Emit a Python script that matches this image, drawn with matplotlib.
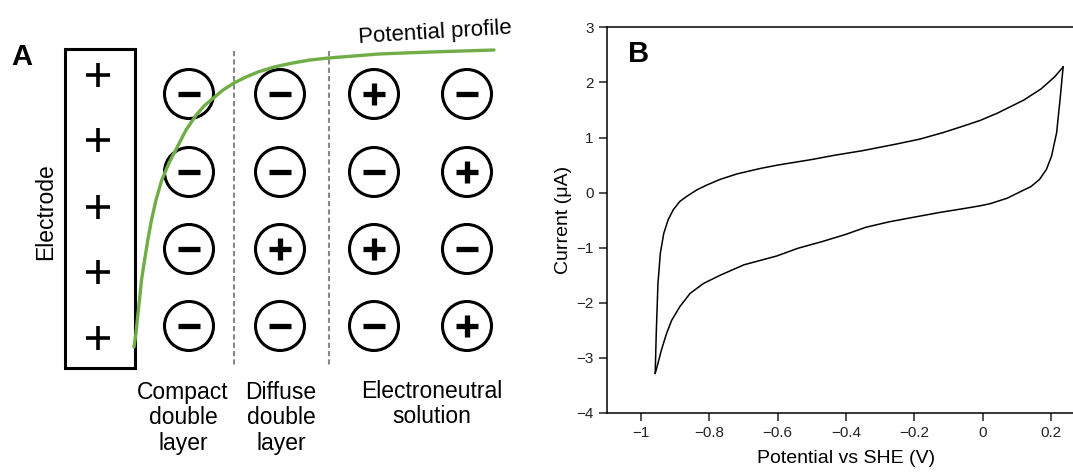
import numpy as np
import matplotlib
matplotlib.use("Agg")
import matplotlib.pyplot as plt
from matplotlib.patches import Circle, Rectangle

plt.rcParams['font.family'] = ['Liberation Sans', 'DejaVu Sans']

# ---- Panel A: double layer sketch ----
ion_signs = [['-', '-', '+', '-'],
             ['-', '-', '-', '+'],
             ['-', '+', '+', '-'],
             ['-', '-', '-', '+']]
col_x = [189, 280, 374, 467]
row_y = [94, 172, 249, 326]
electrode_plus_y = [75, 140, 207, 272, 338]
divider_x = [234, 329]

# potential profile (pixel coords of the sketch)
profile_x = [134, 136, 137.5, 139.5, 141.5, 144.6, 147.8, 151.5, 156, 161.8, 169, 177.3,
             186, 196.3, 204, 213.5, 223, 234, 246, 258, 274, 292.7, 310, 328.8,
             354, 378.8, 404, 430.4, 462, 494]
profile_y = [347, 333, 318, 300, 280, 260, 240, 220, 200, 180, 163, 147,
             130, 115, 106, 98, 90, 83, 77, 72, 67, 63, 60, 58,
             56, 54, 53, 52, 51, 50]

region_labels = ['Compact\ndouble\nlayer', 'Diffuse\ndouble\nlayer', 'Electroneutral\nsolution']
region_label_x = [183, 281, 432]
region_label_y = [418, 418, 404]

# ---- Panel B: cyclic voltammogram ----
fwd_v = [-0.958, -0.955, -0.950, -0.943, -0.933, -0.920, -0.905, -0.886, -0.866, -0.836,
         -0.806, -0.768, -0.718, -0.649, -0.599, -0.500, -0.431, -0.352, -0.253, -0.184,
         -0.115, -0.055, -0.007, 0.043, 0.121, 0.171, 0.211, 0.236]
fwd_i = [-3.28, -2.56, -1.65, -1.10, -0.74, -0.49, -0.31, -0.16, -0.07, 0.05,
         0.14, 0.24, 0.34, 0.44, 0.50, 0.60, 0.68, 0.76, 0.88, 0.97,
         1.09, 1.21, 1.31, 1.44, 1.68, 1.88, 2.10, 2.28]
rev_v = [0.236, 0.227, 0.217, 0.202, 0.187, 0.167, 0.142, 0.112, 0.073, 0.023,
         -0.007, -0.055, -0.125, -0.204, -0.273, -0.342, -0.401, -0.470, -0.540, -0.602,
         -0.698, -0.768, -0.817, -0.856, -0.886, -0.910, -0.925, -0.940, -0.953, -0.958]
rev_i = [2.28, 1.69, 1.09, 0.66, 0.42, 0.24, 0.11, 0.02, -0.10, -0.20,
         -0.24, -0.29, -0.36, -0.45, -0.53, -0.63, -0.76, -0.89, -1.01, -1.15,
         -1.31, -1.50, -1.65, -1.83, -2.07, -2.32, -2.56, -2.86, -3.17, -3.28]
x_ticks = [-1, -0.8, -0.6, -0.4, -0.2, 0, 0.2]
x_tick_labels = ['\u22121', '\u22120.8', '\u22120.6', '\u22120.4', '\u22120.2', '0', '0.2']
y_ticks = [-4, -3, -2, -1, 0, 1, 2, 3]
y_tick_labels = ['\u22124', '\u22123', '\u22122', '\u22121', '0', '1', '2', '3']

W, H = 1073, 472
fig = plt.figure(figsize=(W / 100, H / 100), dpi=100)

# sketch axes in pixel units over whole figure
axA = fig.add_axes([0, 0, 1, 1])
axA.set_xlim(0, W)
axA.set_ylim(H, 0)
axA.axis('off')

axA.text(22, 57, 'A', fontsize=21, fontweight='bold', ha='center', va='center')

axA.add_patch(Rectangle((64.5, 49), 70, 319, fill=False, lw=2.2, ec='black'))
for y in electrode_plus_y:
    axA.plot([86, 110], [y, y], color='black', lw=2.6, solid_capstyle='butt')
    axA.plot([98, 98], [y - 12, y + 12], color='black', lw=2.6, solid_capstyle='butt')
axA.text(46, 212, 'Electrode', rotation=90, fontsize=16.5, ha='center', va='center')

for x in divider_x:
    axA.plot([x, x], [51, 366], color='#888888', lw=1.5, ls=(0, (2.5, 1.5)))

for r, y in enumerate(row_y):
    for c, x in enumerate(col_x):
        axA.add_patch(Circle((x, y), 24.5, fill=False, lw=2.2, ec='black'))
        axA.plot([x - 11, x + 11], [y, y], color='black', lw=3.8, solid_capstyle='butt')
        if ion_signs[r][c] == '+':
            axA.plot([x, x], [y - 11, y + 11], color='black', lw=3.8, solid_capstyle='butt')

axA.plot(profile_x, profile_y, color='#70ad47', lw=2.4, solid_capstyle='round')
axA.text(435, 33, 'Potential profile', fontsize=16, rotation=3.5,
         ha='center', va='center', rotation_mode='anchor')

for lab, x, y in zip(region_labels, region_label_x, region_label_y):
    axA.text(x, y, lab, fontsize=16.5, ha='center', va='center',
             multialignment='center', linespacing=1.15)

# CV axes
left_px, right_px, top_px, bot_px = 606.7, 1085, 27.3, 413
axB = fig.add_axes([left_px / W, (H - bot_px) / H, (right_px - left_px) / W, (bot_px - top_px) / H])
axB.plot(fwd_v, fwd_i, color='black', lw=1.1)
axB.plot(rev_v, rev_i, color='black', lw=1.1)
axB.set_xlim(-1.1, 0.3)
axB.set_ylim(-4, 3)
axB.set_xticks(x_ticks)
axB.set_xticklabels(x_tick_labels)
axB.set_yticks(y_ticks)
axB.set_yticklabels(y_tick_labels)
axB.spines['right'].set_visible(False)
for s in ['left', 'bottom', 'top']:
    axB.spines[s].set_linewidth(1.1)
axB.tick_params(direction='out', length=5.5, width=1.1, labelsize=11, pad=4, colors='#222222')
axB.set_xlabel('Potential vs SHE (V)', fontsize=14, labelpad=7)
axB.set_ylabel('Current (\u03bcA)', fontsize=14, labelpad=3)
axB.text(639, 54.5, 'B', fontsize=21, fontweight='bold', ha='center', va='center',
         transform=axA.transData)

fig.savefig('out.png', dpi=100)
